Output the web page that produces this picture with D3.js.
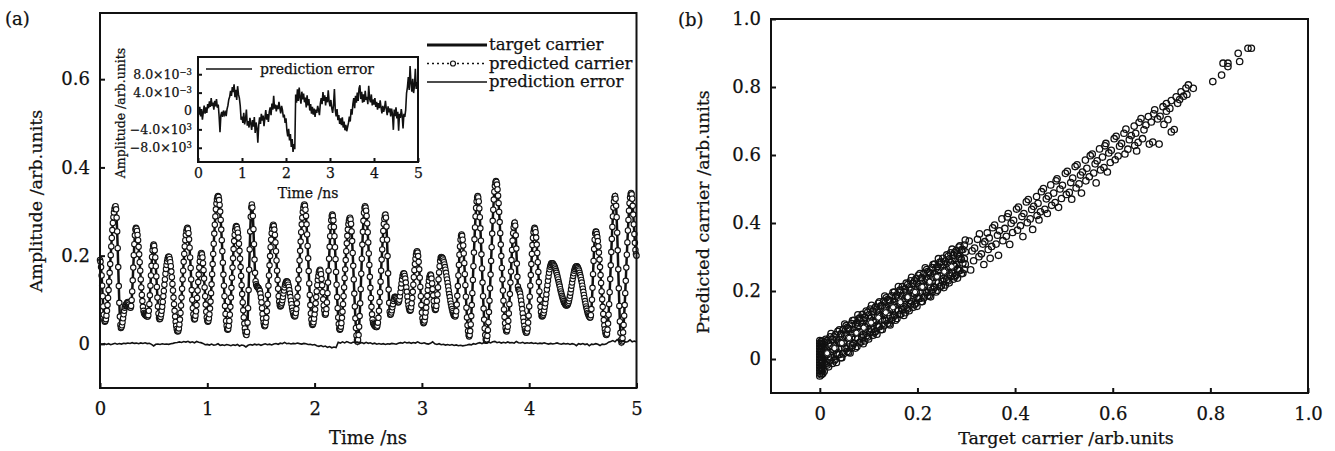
<!DOCTYPE html>
<html>
<head>
<meta charset="utf-8">
<script src="https://cdn.jsdelivr.net/npm/d3@7"></script>
<style>
  body { margin: 0; background: #fff; }
  svg text { font-family: "DejaVu Serif", serif; fill: #111; stroke: #111; stroke-width: 0.25px; }
</style>
</head>
<body>
<div id="chart-area"></div>
<script>
// ---- panel (a): carrier vs time, sampled every 0.005 ns from 0 to 5 ns ----
const carrierStep = 0.005
const targetCarrier = [
  0.190,0.186,0.174,0.155,0.132,0.108,0.085,0.066,0.054,0.050,0.052,0.056,0.064,0.075,0.088,0.104,0.122,0.141,0.161,0.181,
  0.201,0.221,0.240,0.258,0.274,0.287,0.298,0.306,0.310,0.312,0.305,0.286,0.255,0.217,0.174,0.131,0.093,0.062,0.043,0.036,
  0.038,0.042,0.049,0.058,0.067,0.075,0.082,0.086,0.088,0.090,0.092,0.094,0.095,0.093,0.089,0.085,0.083,0.082,0.086,0.099,
  0.119,0.144,0.173,0.201,0.226,0.246,0.259,0.263,0.261,0.256,0.247,0.235,0.220,0.203,0.185,0.166,0.146,0.128,0.111,0.097,
  0.084,0.075,0.070,0.068,0.066,0.065,0.064,0.063,0.062,0.062,0.065,0.075,0.090,0.110,0.132,0.155,0.177,0.197,0.212,0.222,
  0.225,0.222,0.212,0.196,0.176,0.153,0.129,0.105,0.085,0.069,0.059,0.056,0.057,0.061,0.067,0.075,0.084,0.095,0.108,0.120,
  0.134,0.146,0.159,0.170,0.179,0.187,0.193,0.197,0.198,0.197,0.192,0.185,0.176,0.164,0.151,0.136,0.121,0.105,0.090,0.075,
  0.062,0.050,0.041,0.034,0.029,0.028,0.030,0.035,0.044,0.055,0.070,0.087,0.105,0.125,0.146,0.166,0.186,0.204,0.221,0.235,
  0.247,0.256,0.261,0.263,0.260,0.251,0.237,0.218,0.196,0.172,0.146,0.122,0.100,0.081,0.067,0.058,0.055,0.057,0.064,0.074,
  0.088,0.104,0.121,0.140,0.157,0.173,0.187,0.197,0.204,0.206,0.203,0.196,0.183,0.167,0.148,0.128,0.108,0.089,0.073,0.060,
  0.053,0.050,0.052,0.058,0.067,0.080,0.096,0.115,0.135,0.158,0.181,0.204,0.227,0.250,0.270,0.289,0.305,0.318,0.327,0.333,
  0.335,0.333,0.326,0.315,0.300,0.281,0.259,0.235,0.210,0.184,0.157,0.132,0.108,0.086,0.068,0.052,0.041,0.034,0.032,0.034,
  0.041,0.052,0.066,0.084,0.105,0.127,0.150,0.173,0.194,0.215,0.233,0.247,0.258,0.265,0.267,0.265,0.260,0.252,0.241,0.227,
  0.211,0.193,0.174,0.154,0.133,0.113,0.094,0.076,0.060,0.046,0.035,0.027,0.022,0.020,0.027,0.048,0.081,0.122,0.168,0.214,
  0.255,0.288,0.309,0.316,0.309,0.290,0.260,0.226,0.191,0.161,0.142,0.135,0.131,0.129,0.128,0.127,0.125,0.122,0.120,0.114,
  0.105,0.094,0.081,0.068,0.057,0.048,0.042,0.040,0.042,0.049,0.059,0.074,0.091,0.111,0.132,0.155,0.178,0.199,0.219,0.236,
  0.251,0.261,0.268,0.270,0.267,0.259,0.247,0.230,0.210,0.189,0.166,0.145,0.125,0.108,0.096,0.088,0.085,0.086,0.089,0.093,
  0.099,0.106,0.114,0.121,0.128,0.134,0.138,0.141,0.142,0.141,0.139,0.134,0.129,0.122,0.114,0.106,0.098,0.090,0.082,0.075,
  0.070,0.065,0.063,0.062,0.064,0.070,0.079,0.092,0.107,0.126,0.146,0.167,0.189,0.211,0.232,0.253,0.271,0.286,0.299,0.308,
  0.314,0.316,0.313,0.304,0.290,0.271,0.248,0.222,0.194,0.165,0.137,0.111,0.088,0.069,0.055,0.046,0.043,0.045,0.049,0.057,
  0.067,0.078,0.092,0.106,0.119,0.133,0.145,0.154,0.162,0.166,0.168,0.166,0.158,0.147,0.133,0.117,0.101,0.087,0.076,0.068,
  0.066,0.069,0.079,0.094,0.115,0.139,0.166,0.193,0.220,0.244,0.265,0.280,0.290,0.293,0.290,0.280,0.265,0.244,0.219,0.192,
  0.163,0.134,0.106,0.081,0.060,0.045,0.035,0.032,0.034,0.039,0.047,0.059,0.073,0.090,0.108,0.128,0.149,0.169,0.190,0.210,
  0.228,0.245,0.259,0.271,0.279,0.284,0.286,0.282,0.272,0.255,0.233,0.206,0.177,0.146,0.114,0.085,0.058,0.036,0.019,0.009,
  0.005,0.009,0.020,0.039,0.063,0.092,0.124,0.159,0.193,0.225,0.254,0.279,0.297,0.308,0.312,0.309,0.302,0.290,0.273,0.253,
  0.230,0.205,0.179,0.152,0.127,0.104,0.084,0.067,0.055,0.048,0.045,0.043,0.041,0.040,0.039,0.038,0.038,0.041,0.048,0.059,
  0.075,0.095,0.117,0.141,0.166,0.191,0.214,0.236,0.256,0.272,0.283,0.291,0.293,0.286,0.266,0.236,0.199,0.160,0.123,0.093,
  0.073,0.066,0.067,0.071,0.076,0.083,0.090,0.097,0.102,0.106,0.107,0.106,0.104,0.101,0.097,0.095,0.094,0.096,0.100,0.108,
  0.117,0.127,0.137,0.146,0.154,0.158,0.160,0.159,0.154,0.148,0.139,0.128,0.118,0.107,0.096,0.087,0.081,0.076,0.075,0.077,
  0.083,0.092,0.104,0.118,0.134,0.151,0.167,0.181,0.193,0.202,0.208,0.210,0.207,0.199,0.186,0.169,0.150,0.129,0.108,0.088,
  0.071,0.058,0.050,0.047,0.049,0.053,0.061,0.071,0.082,0.095,0.109,0.122,0.133,0.143,0.151,0.155,0.157,0.155,0.148,0.137,
  0.124,0.110,0.097,0.086,0.079,0.077,0.079,0.086,0.098,0.112,0.128,0.146,0.162,0.176,0.188,0.195,0.197,0.196,0.195,0.193,
  0.189,0.185,0.180,0.174,0.168,0.161,0.153,0.146,0.138,0.130,0.121,0.113,0.106,0.098,0.091,0.085,0.079,0.074,0.070,0.066,
  0.064,0.063,0.062,0.065,0.074,0.089,0.109,0.131,0.155,0.179,0.202,0.221,0.236,0.245,0.248,0.245,0.236,0.223,0.205,0.183,
  0.158,0.133,0.107,0.082,0.060,0.042,0.029,0.020,0.017,0.020,0.029,0.044,0.063,0.088,0.115,0.145,0.176,0.207,0.237,0.264,
  0.289,0.308,0.323,0.332,0.335,0.332,0.323,0.307,0.287,0.262,0.234,0.203,0.171,0.139,0.108,0.080,0.055,0.035,0.020,0.010,
  0.007,0.010,0.018,0.031,0.049,0.072,0.098,0.126,0.157,0.188,0.219,0.250,0.279,0.304,0.327,0.345,0.358,0.366,0.369,0.367,
  0.361,0.350,0.336,0.319,0.299,0.276,0.251,0.225,0.199,0.172,0.146,0.121,0.098,0.078,0.061,0.047,0.036,0.030,0.028,0.031,
  0.039,0.052,0.069,0.090,0.113,0.139,0.164,0.190,0.213,0.234,0.251,0.264,0.272,0.275,0.268,0.246,0.216,0.182,0.152,0.130,
  0.123,0.122,0.119,0.114,0.107,0.098,0.089,0.079,0.069,0.059,0.050,0.041,0.034,0.029,0.026,0.025,0.028,0.035,0.048,0.064,
  0.085,0.107,0.132,0.156,0.181,0.204,0.224,0.240,0.253,0.260,0.263,0.260,0.253,0.241,0.225,0.206,0.185,0.163,0.140,0.119,
  0.100,0.084,0.072,0.064,0.062,0.063,0.066,0.070,0.076,0.084,0.092,0.102,0.112,0.123,0.133,0.143,0.153,0.161,0.169,0.175,
  0.179,0.182,0.183,0.183,0.182,0.180,0.178,0.176,0.173,0.169,0.165,0.161,0.156,0.151,0.146,0.140,0.135,0.130,0.124,0.119,
  0.114,0.109,0.105,0.101,0.097,0.094,0.092,0.090,0.088,0.087,0.087,0.088,0.090,0.093,0.097,0.103,0.109,0.116,0.124,0.132,
  0.139,0.147,0.154,0.160,0.166,0.170,0.173,0.175,0.176,0.176,0.174,0.172,0.169,0.166,0.161,0.156,0.151,0.145,0.139,0.132,
  0.125,0.118,0.111,0.104,0.097,0.091,0.085,0.080,0.075,0.070,0.067,0.064,0.062,0.060,0.060,0.065,0.079,0.100,0.127,0.158,
  0.188,0.215,0.236,0.250,0.255,0.254,0.249,0.242,0.233,0.221,0.207,0.191,0.174,0.156,0.138,0.119,0.101,0.084,0.068,0.054,
  0.042,0.033,0.026,0.021,0.020,0.023,0.032,0.046,0.066,0.090,0.117,0.147,0.178,0.208,0.238,0.265,0.289,0.309,0.323,0.332,
  0.335,0.329,0.313,0.287,0.252,0.212,0.169,0.126,0.086,0.051,0.025,0.009,0.003,0.006,0.013,0.026,0.043,0.064,0.088,0.115,
  0.143,0.173,0.202,0.230,0.257,0.281,0.302,0.319,0.332,0.339,0.342,0.339,0.329,0.313,0.293,0.271,0.249,0.229,0.213,0.203,
  0.200
]

// prediction error, every 0.02 ns, in units of 1e-3
const errorStep = 0.02
const predictionError = [
  0.2,-0.8,0.9,-1.2,0.4,-1.9,-0.3,1.2,-0.6,0.8,-0.4,1.5,0.6,2.1,0.9,2.8,1.1,1.8,0.3,2.2,
  1.0,2.6,0.7,1.4,-1.2,-4.6,-0.9,-0.2,-1.3,0.1,-0.8,-0.3,-1.1,0.4,1.2,2.5,3.1,4.4,3.3,5.2,
  4.1,5.8,3.0,4.6,2.4,5.4,3.6,2.8,1.1,-1.9,-1.2,-2.6,-0.4,-2.9,-1.8,0.3,-3.2,-2.2,-3.6,-1.5,
  -2.7,-4.1,-2.0,-3.4,-1.3,-4.8,-2.5,-3.7,-6.9,-3.1,-1.4,-2.8,-0.6,-2.1,-1.0,-3.3,-1.6,0.2,-1.9,-0.7,
  -2.4,-0.2,0.8,-0.9,1.6,0.3,3.3,0.5,1.4,-0.1,1.2,0.4,2.0,0.6,-0.5,1.1,0.2,-1.4,-0.8,-2.6,
  -1.6,-4.2,-5.5,-3.9,-6.4,-5.0,-7.8,-6.1,-8.9,-7.2,-8.3,3.6,1.8,4.7,2.2,5.1,3.0,1.6,4.2,2.5,
  3.8,1.9,2.9,0.8,3.4,1.2,2.6,0.1,1.5,-0.6,0.9,-0.8,0.5,-1.3,0.3,-0.4,1.1,0.2,-0.9,1.6,
  2.8,1.5,4.1,2.2,3.4,1.2,3.0,1.9,4.5,2.1,1.0,2.4,0.6,-0.4,1.3,4.8,0.2,-1.2,0.4,-2.0,
  -0.9,-2.8,-1.6,-3.1,-1.4,-3.6,-2.3,-4.2,-3.0,-4.4,-3.5,-2.6,-1.2,-2.3,0.4,-0.8,1.5,2.8,0.6,3.3,
  1.8,4.0,2.2,4.9,5.6,2.6,4.2,1.8,3.6,2.0,4.4,2.4,3.1,1.5,5.5,2.7,1.9,3.6,1.2,2.5,
  1.4,2.8,0.9,2.0,0.3,1.7,0.6,2.3,0.8,-0.5,1.1,-0.2,0.7,2.2,0.4,-0.9,1.0,-0.3,0.6,-1.2,
  0.5,-0.7,-4.1,0.3,-1.1,0.8,-1.6,-0.2,-4.3,-0.6,-1.5,0.4,-1.0,-3.8,-0.6,-1.3,0.2,3.9,5.2,7.4,
  4.6,9.8,6.1,4.2,7.0,3.9,5.5,9.2,4.8,6.3,5.0
]

const timeTicks = [0, 1, 2, 3, 4, 5]
const ampTicks = [0, 0.2, 0.4, 0.6]
const insetYTicks = [-8, -4, 0, 4, 8]
const insetYMant = ["\u22128.0\u00d710", "\u22124.0\u00d710", "0", "4.0\u00d710", "8.0\u00d710"]
const insetYExp = ["3", "3", "", "\u22123", "\u22123"]
const legendNames = ["target carrier", "predicted carrier", "prediction error"]

// ---- panel (b): [target, predicted] pairs ----
const carrierPairs = [
  // pile-up at zero target
  [0,-0.05],[0,-0.042],[0,-0.034],[0,-0.026],[0,-0.018],[0,-0.01],[0,-0.002],[0,0.006],[0,0.014],[0,0.022],
  [0,0.03],[0,0.038],[0,0.046],[0,0.054],[0.003,-0.046],[0.003,-0.037],[0.003,-0.029],[0.003,-0.02],[0.003,-0.012],
  [0.003,-0.003],[0.003,0.005],[0.003,0.013],[0.003,0.021],[0.003,0.029],[0.003,0.037],[0.003,0.045],[0.003,0.052],
  [0.006,-0.043],[0.006,-0.031],[0.006,-0.019],[0.006,-0.007],[0.006,0.006],[0.006,0.018],[0.006,0.031],[0.006,0.043],
  [0.006,0.053],[0.009,-0.036],[0.009,-0.015],[0.009,0.004],[0.009,0.027],[0.009,0.049],
  // dense low range
  [0.015,0.054],[0.015,0.014],[0.015,-0.018],[0.021,0.037],[0.021,-0.003],[0.021,0.065],[0.026,0.057],[0.026,0.029],[0.026,-0.013],
  [0.032,0.071],[0.032,0.031],[0.032,-0.001],[0.037,0.053],[0.037,0.013],[0.037,0.081],[0.043,0.074],[0.043,0.046],[0.043,0.004],
  [0.048,0.087],[0.048,0.047],[0.048,0.015],[0.054,0.070],[0.054,0.030],[0.054,0.098],[0.059,0.090],[0.059,0.062],[0.059,0.020],
  [0.065,0.104],[0.065,0.064],[0.065,0.032],[0.070,0.086],[0.070,0.046],[0.070,0.114],[0.076,0.107],[0.076,0.079],[0.076,0.037],
  [0.081,0.120],[0.081,0.080],[0.081,0.048],[0.087,0.103],[0.087,0.063],[0.087,0.131],[0.092,0.123],[0.092,0.095],[0.092,0.053],
  [0.098,0.137],[0.098,0.097],[0.098,0.065],[0.103,0.119],[0.103,0.079],[0.103,0.147],[0.109,0.140],[0.109,0.112],[0.109,0.070],
  [0.114,0.153],[0.114,0.113],[0.114,0.081],[0.120,0.136],[0.120,0.096],[0.120,0.164],[0.125,0.156],[0.125,0.128],[0.125,0.086],
  [0.131,0.170],[0.131,0.130],[0.131,0.098],[0.136,0.152],[0.136,0.112],[0.136,0.180],[0.142,0.173],[0.142,0.145],[0.142,0.103],
  [0.147,0.186],[0.147,0.146],[0.147,0.114],[0.153,0.169],[0.153,0.129],[0.153,0.197],[0.158,0.189],[0.158,0.161],[0.158,0.119],
  [0.164,0.203],[0.164,0.163],[0.164,0.131],[0.169,0.185],[0.169,0.145],[0.169,0.213],[0.175,0.206],[0.175,0.178],[0.175,0.136],
  [0.180,0.219],[0.180,0.179],[0.180,0.147],[0.186,0.202],[0.186,0.162],[0.186,0.230],[0.191,0.222],[0.191,0.194],[0.191,0.152],
  [0.197,0.236],[0.197,0.196],[0.197,0.164],[0.202,0.218],[0.202,0.178],[0.202,0.246],[0.208,0.239],[0.208,0.211],[0.208,0.169],
  [0.213,0.252],[0.213,0.212],[0.213,0.180],[0.219,0.235],[0.219,0.195],[0.219,0.263],[0.224,0.255],[0.224,0.227],[0.224,0.185],
  [0.230,0.269],[0.230,0.229],[0.230,0.197],[0.235,0.251],[0.235,0.211],[0.235,0.279],[0.241,0.272],[0.241,0.244],[0.241,0.202],
  [0.246,0.285],[0.246,0.245],[0.246,0.213],[0.252,0.268],[0.252,0.228],[0.252,0.296],[0.257,0.288],[0.257,0.260],[0.257,0.218],
  [0.263,0.302],[0.263,0.262],[0.263,0.230],[0.268,0.284],[0.268,0.244],[0.268,0.312],[0.274,0.305],[0.274,0.277],[0.274,0.235],
  [0.279,0.318],[0.279,0.278],[0.279,0.246],[0.285,0.301],[0.285,0.261],[0.285,0.329],[0.290,0.321],[0.290,0.293],[0.290,0.251],
  [0.296,0.335],[0.296,0.295],[0.296,0.263],
  [0.012,0.058],[0.012,0.020],[0.012,-0.015],[0.018,0.047],[0.018,0.007],[0.018,-0.023],[0.023,0.075],[0.023,0.040],[0.023,0.004],
  [0.029,0.065],[0.029,0.026],[0.029,-0.005],[0.034,0.058],[0.034,0.017],[0.034,-0.010],[0.040,0.086],[0.040,0.048],[0.040,0.013],
  [0.045,0.074],[0.045,0.034],[0.045,0.004],[0.051,0.103],[0.051,0.068],[0.051,0.032],[0.056,0.092],[0.056,0.053],[0.056,0.022],
  [0.062,0.086],[0.062,0.045],[0.062,0.018],[0.067,0.113],[0.067,0.075],[0.067,0.040],[0.073,0.102],[0.073,0.062],[0.073,0.032],
  [0.078,0.130],[0.078,0.095],[0.078,0.059],[0.084,0.120],[0.084,0.081],[0.084,0.050],[0.089,0.113],[0.089,0.072],[0.089,0.045],
  [0.095,0.141],[0.095,0.103],[0.095,0.068],[0.100,0.129],[0.100,0.089],[0.100,0.059],[0.106,0.158],[0.106,0.123],[0.106,0.087],
  [0.111,0.147],[0.111,0.108],[0.111,0.077],[0.117,0.141],[0.117,0.100],[0.117,0.073],[0.122,0.168],[0.122,0.130],[0.122,0.095],
  [0.128,0.157],[0.128,0.117],[0.128,0.087],[0.133,0.185],[0.133,0.150],[0.133,0.114],[0.139,0.175],[0.139,0.136],[0.139,0.105],
  [0.144,0.168],[0.144,0.127],[0.144,0.100],[0.150,0.196],[0.150,0.158],[0.150,0.123],[0.155,0.184],[0.155,0.144],[0.155,0.114],
  [0.161,0.213],[0.161,0.178],[0.161,0.142],[0.166,0.202],[0.166,0.163],[0.166,0.132],[0.172,0.196],[0.172,0.155],[0.172,0.128],
  [0.177,0.223],[0.177,0.185],[0.177,0.150],[0.183,0.212],[0.183,0.172],[0.183,0.142],[0.188,0.240],[0.188,0.205],[0.188,0.169],
  [0.194,0.230],[0.194,0.191],[0.194,0.160],[0.199,0.223],[0.199,0.182],[0.199,0.155],[0.205,0.251],[0.205,0.213],[0.205,0.178],
  [0.210,0.239],[0.210,0.199],[0.210,0.169],[0.216,0.268],[0.216,0.233],[0.216,0.197],[0.221,0.257],[0.221,0.218],[0.221,0.187],
  [0.227,0.251],[0.227,0.210],[0.227,0.183],[0.232,0.278],[0.232,0.240],[0.232,0.205],[0.238,0.267],[0.238,0.227],[0.238,0.197],
  [0.243,0.295],[0.243,0.260],[0.243,0.224],[0.249,0.285],[0.249,0.246],[0.249,0.215],[0.254,0.278],[0.254,0.237],[0.254,0.210],
  [0.260,0.306],[0.260,0.268],[0.260,0.233],[0.265,0.294],[0.265,0.254],[0.265,0.224],[0.271,0.323],[0.271,0.288],[0.271,0.252],
  [0.276,0.312],[0.276,0.273],[0.276,0.242],[0.282,0.306],[0.282,0.265],[0.282,0.238],[0.287,0.333],[0.287,0.295],[0.287,0.260],
  [0.293,0.322],[0.293,0.282],[0.293,0.252],[0.298,0.350],[0.298,0.315],[0.298,0.279],
  // middle range
  [0.306,0.347],[0.312,0.318],[0.315,0.289],[0.309,0.262],[0.323,0.352],[0.317,0.326],[0.326,0.301],
  [0.327,0.368],[0.334,0.338],[0.331,0.309],[0.336,0.278],[0.343,0.371],[0.338,0.345],[0.345,0.322],
  [0.354,0.386],[0.347,0.356],[0.352,0.331],[0.349,0.296],[0.358,0.394],[0.364,0.364],[0.361,0.338],
  [0.373,0.412],[0.368,0.377],[0.375,0.348],[0.366,0.305],[0.384,0.418],[0.379,0.384],[0.382,0.361],
  [0.386,0.428],[0.392,0.399],[0.395,0.372],[0.389,0.337],[0.403,0.441],[0.397,0.408],[0.405,0.379],
  [0.407,0.447],[0.414,0.419],[0.411,0.392],[0.416,0.36],[0.423,0.462],[0.418,0.428],[0.425,0.401],
  [0.427,0.469],[0.434,0.44],[0.431,0.412],[0.436,0.381],[0.444,0.478],[0.438,0.449],[0.445,0.422],
  [0.454,0.492],[0.447,0.458],[0.452,0.433],[0.449,0.409],[0.458,0.501],[0.464,0.471],[0.461,0.44],
  [0.473,0.512],[0.468,0.479],[0.475,0.452],[0.466,0.428],[0.484,0.524],[0.479,0.488],[0.482,0.46],
  [0.486,0.53],[0.492,0.5],[0.495,0.472],[0.489,0.446],[0.503,0.546],[0.497,0.511],[0.505,0.484],
  [0.507,0.552],[0.514,0.519],[0.511,0.49],[0.516,0.47],[0.523,0.566],[0.518,0.532],[0.525,0.503],
  [0.527,0.571],[0.534,0.541],[0.531,0.515],[0.536,0.488],[0.544,0.585],[0.538,0.55],[0.545,0.524],
  [0.554,0.598],[0.547,0.561],[0.552,0.536],[0.558,0.603],[0.564,0.574],[0.561,0.547],[0.566,0.518],
  [0.573,0.618],[0.568,0.583],[0.575,0.556],[0.584,0.627],[0.579,0.594],[0.582,0.563],
  [0.586,0.634],[0.592,0.606],[0.595,0.578],[0.589,0.55],[0.603,0.648],[0.597,0.614],[0.605,0.586],
  [0.607,0.655],[0.614,0.626],[0.611,0.597],[0.623,0.664],[0.618,0.634],[0.625,0.603],
  [0.627,0.676],[0.634,0.645],[0.631,0.617],[0.644,0.685],[0.638,0.657],[0.645,0.628],
  [0.654,0.696],[0.647,0.664],[0.652,0.637],[0.649,0.612],[0.658,0.707],[0.664,0.674],[0.661,0.648],
  [0.673,0.713],[0.668,0.688],[0.675,0.632],[0.684,0.721],[0.679,0.697],[0.682,0.638],
  [0.686,0.733],[0.692,0.706],[0.695,0.632],[0.703,0.742],[0.697,0.714],[0.705,0.69],
  // upper range
  [0.71,0.751],[0.71,0.729],[0.713,0.704],[0.72,0.76],[0.717,0.737],[0.72,0.668],[0.726,0.675],
  [0.73,0.771],[0.733,0.752],[0.74,0.786],[0.737,0.763],[0.745,0.773],[0.75,0.797],[0.752,0.778],
  [0.755,0.806],[0.765,0.796],[0.805,0.816],[0.823,0.835],[0.826,0.87],[0.836,0.87],[0.836,0.86],
  [0.857,0.899],[0.86,0.875],[0.877,0.914],[0.884,0.914]
]
// points lying on the diagonal (light trace through the dense band)
const centrePairs = [
  [0.015,0.017],[0.03,0.032],[0.045,0.047],[0.06,0.062],[0.075,0.077],[0.09,0.092],[0.105,0.107],
  [0.12,0.122],[0.135,0.137],[0.15,0.152],[0.165,0.167],[0.18,0.182],[0.195,0.197],[0.21,0.212],
  [0.225,0.227],[0.24,0.242],[0.255,0.257],[0.27,0.272]
]
const scatterTicks = [0, 0.2, 0.4, 0.6, 0.8, 1.0]

const W = 1335, H = 451
const svg = d3.select("#chart-area").append("svg")
  .attr("width", W)
  .attr("height", H)
svg.append("rect").attr("width", W).attr("height", H).attr("fill", "#fff")

const fmt = d => d === 0 ? "0" : d3.format(".1f")(d)

function styleAxis(g, size) {
  g.attr("font-size", size).attr("color", "#111")
  g.select(".domain").remove()
  g.selectAll(".tick line").attr("stroke-width", 2)
}

// ================= panel (a) =================
const xA = d3.scaleLinear().domain([0, 5]).range([100, 636.5])
const yA = d3.scaleLinear().domain([-0.1, 0.75]).range([388, 13])

svg.append("g")
  .attr("transform", "translate(0,388)")
  .call(d3.axisBottom(xA).tickValues(timeTicks).tickSizeInner(-5).tickSizeOuter(0)
    .tickPadding(14).tickFormat(d3.format("d")))
  .call(g => styleAxis(g, 18))

svg.append("g")
  .attr("transform", "translate(100,0)")
  .call(d3.axisLeft(yA).tickValues(ampTicks).tickSizeInner(-5).tickSizeOuter(0)
    .tickPadding(10).tickFormat(fmt))
  .call(g => styleAxis(g, 18))

// target carrier
const carrierLine = d3.line()
  .x((d, i) => xA(i * carrierStep))
  .y(d => yA(d))
svg.append("path")
  .datum(targetCarrier)
  .attr("d", carrierLine)
  .attr("fill", "none")
  .attr("stroke", "#111")
  .attr("stroke-width", 2.5)

// predicted carrier (dotted line + open circles)
svg.append("path")
  .datum(targetCarrier)
  .attr("d", carrierLine)
  .attr("fill", "none")
  .attr("stroke", "#111")
  .attr("stroke-width", 1)
  .attr("stroke-dasharray", "1,2")

svg.append("g").selectAll("circle")
  .data(targetCarrier)
  .enter().append("circle")
    .attr("cx", (d, i) => xA(i * carrierStep))
    .attr("cy", d => yA(d))
    .attr("r", 2.7)
    .attr("fill", "#fff")
    .attr("stroke", "#111")
    .attr("stroke-width", 1.1)

// prediction error on main axes
svg.append("path")
  .datum(predictionError)
  .attr("d", d3.line().x((d, i) => xA(i * errorStep)).y(d => yA(d * 1e-3)))
  .attr("fill", "none")
  .attr("stroke", "#111")
  .attr("stroke-width", 1.6)

svg.append("rect")
  .attr("x", 100).attr("y", 13)
  .attr("width", 536.5).attr("height", 375)
  .attr("fill", "none").attr("stroke", "#111").attr("stroke-width", 2)

// legend
const legend = svg.append("g")
legendNames.forEach((name, i) => {
  const ly = 45 + i * 18.5
  const line = legend.append("line")
    .attr("x1", 427).attr("x2", 487).attr("y1", ly).attr("y2", ly)
    .attr("stroke", "#111")
  if (i === 0) line.attr("stroke-width", 3)
  if (i === 1) {
    line.attr("stroke-width", 1.5).attr("stroke-dasharray", "2,3")
    legend.append("circle").attr("cx", 453).attr("cy", ly).attr("r", 2.5)
      .attr("fill", "#fff").attr("stroke", "#111").attr("stroke-width", 1.2)
  }
  if (i === 2) line.attr("stroke-width", 1.5)
  legend.append("text")
    .attr("x", 489).attr("y", ly).attr("dy", "0.33em")
    .attr("font-size", 16.5)
    .text(name)
})

// axis titles
svg.append("text")
  .attr("x", 368).attr("y", 444)
  .attr("text-anchor", "middle").attr("font-size", 18)
  .text("Time /ns")
svg.append("text")
  .attr("transform", "translate(42,201) rotate(-90)")
  .attr("text-anchor", "middle").attr("font-size", 17.5)
  .text("Amplitude /arb.units")
svg.append("text").attr("x", 5).attr("y", 25).attr("font-size", 18).text("(a)")

// ---- inset ----
const xI = d3.scaleLinear().domain([0, 5]).range([198, 418])
const yI = d3.scaleLinear().domain([-11.1, 11.75]).range([162, 57])

svg.append("rect")
  .attr("x", 198).attr("y", 57).attr("width", 220).attr("height", 105)
  .attr("fill", "#fff")

svg.append("g")
  .attr("transform", "translate(0,162)")
  .call(d3.axisBottom(xI).tickValues(timeTicks).tickSizeInner(-4).tickSizeOuter(0)
    .tickPadding(6).tickFormat(d3.format("d")))
  .call(g => styleAxis(g, 14))

const insetY = svg.append("g")
  .attr("transform", "translate(198,0)")
  .call(d3.axisLeft(yI).tickValues(insetYTicks).tickSizeInner(-4).tickSizeOuter(0)
    .tickPadding(6).tickFormat(() => ""))
  .call(g => styleAxis(g, 12.5))
insetY.selectAll(".tick text").each(function (d, i) {
  const t = d3.select(this)
  t.append("tspan").text(insetYMant[i])
  if (insetYExp[i]) {
    t.append("tspan").attr("dy", "-0.45em").attr("font-size", 8.5).text(insetYExp[i])
  }
})

svg.append("path")
  .datum(predictionError)
  .attr("d", d3.line().x((d, i) => xI(i * errorStep)).y(d => yI(d)))
  .attr("fill", "none")
  .attr("stroke", "#111")
  .attr("stroke-width", 1.6)

svg.append("rect")
  .attr("x", 198).attr("y", 57).attr("width", 220).attr("height", 105)
  .attr("fill", "none").attr("stroke", "#111").attr("stroke-width", 2)

svg.append("line")
  .attr("x1", 206).attr("x2", 252).attr("y1", 69).attr("y2", 69)
  .attr("stroke", "#111").attr("stroke-width", 1.5)
svg.append("text")
  .attr("x", 260).attr("y", 69).attr("dy", "0.33em").attr("font-size", 14)
  .text(legendNames[2])

svg.append("text")
  .attr("x", 308).attr("y", 198)
  .attr("text-anchor", "middle").attr("font-size", 14)
  .text("Time /ns")
svg.append("text")
  .attr("transform", "translate(125,113) rotate(-90)")
  .attr("text-anchor", "middle").attr("font-size", 12.5)
  .text("Amplitude /arb.units")

// ================= panel (b) =================
const xB = d3.scaleLinear().domain([-0.1, 1.0]).range([771, 1308])
const yB = d3.scaleLinear().domain([-0.1, 1.0]).range([393, 19])

svg.append("g")
  .attr("transform", "translate(0,393)")
  .call(d3.axisBottom(xB).tickValues(scatterTicks).tickSizeInner(-5).tickSizeOuter(0)
    .tickPadding(14).tickFormat(fmt))
  .call(g => styleAxis(g, 18))

svg.append("g")
  .attr("transform", "translate(771,0)")
  .call(d3.axisLeft(yB).tickValues(scatterTicks).tickSizeInner(-5).tickSizeOuter(0)
    .tickPadding(10).tickFormat(fmt))
  .call(g => styleAxis(g, 18))

svg.append("g").selectAll("circle")
  .data(carrierPairs)
  .enter().append("circle")
    .attr("cx", d => xB(d[0]))
    .attr("cy", d => yB(d[1]))
    .attr("r", 3.2)
    .attr("fill", "none")
    .attr("stroke", "#111")
    .attr("stroke-width", 1.3)

svg.append("g").selectAll("circle")
  .data(centrePairs)
  .enter().append("circle")
    .attr("cx", d => xB(d[0]))
    .attr("cy", d => yB(d[1]))
    .attr("r", 2.6)
    .attr("fill", "#fff")
    .attr("stroke", "#111")
    .attr("stroke-width", 1)

svg.append("rect")
  .attr("x", 771).attr("y", 19)
  .attr("width", 537).attr("height", 374)
  .attr("fill", "none").attr("stroke", "#111").attr("stroke-width", 2)

svg.append("text")
  .attr("x", 1066).attr("y", 444)
  .attr("text-anchor", "middle").attr("font-size", 17.5)
  .text("Target carrier /arb.units")
svg.append("text")
  .attr("transform", "translate(709,212) rotate(-90)")
  .attr("text-anchor", "middle").attr("font-size", 17.5)
  .text("Predicted carrier /arb.units")
svg.append("text").attr("x", 678).attr("y", 26).attr("font-size", 18).text("(b)")
</script>
</body>
</html>
